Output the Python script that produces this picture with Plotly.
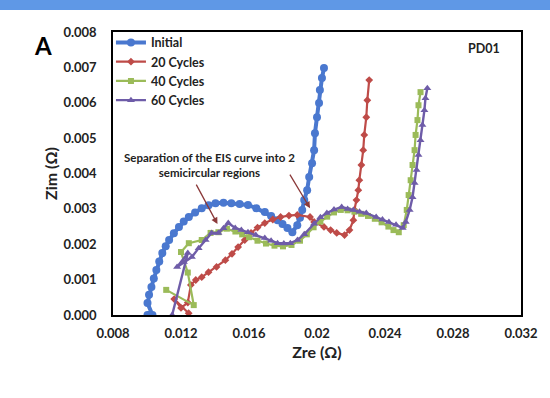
import plotly.graph_objects as go

# ---------------- data ----------------
initial_x = [0.01003, 0.01014, 0.01032, 0.01003, 0.01012, 0.01026, 0.01040, 0.01055, 0.01072, 0.01090, 0.01110,
             0.01130, 0.01158, 0.01188, 0.01216, 0.01246, 0.01283, 0.01322, 0.01362, 0.01403, 0.01450,
             0.01496, 0.01545, 0.01594, 0.01643, 0.01693, 0.01730, 0.01768, 0.01797, 0.01826, 0.01855,
             0.01884, 0.01900, 0.01913, 0.01925, 0.01942, 0.01954, 0.01971, 0.01983, 0.01988, 0.02000,
             0.02012, 0.02017, 0.02029, 0.02041]
initial_y = [0.00000, 0.00000, 0.00000, 0.00034, 0.00057, 0.00079, 0.00103, 0.00127, 0.00151, 0.00175, 0.00194,
             0.00212, 0.00231, 0.00249, 0.00264, 0.00277, 0.00290, 0.00302, 0.00310, 0.00316, 0.00317,
             0.00316, 0.00314, 0.00311, 0.00302, 0.00291, 0.00280, 0.00268, 0.00257, 0.00246, 0.00234,
             0.00254, 0.00275, 0.00297, 0.00325, 0.00353, 0.00390, 0.00429, 0.00466, 0.00514, 0.00559,
             0.00599, 0.00636, 0.00670, 0.00698]

c20_x = [0.01245, 0.01160, 0.01200, 0.01240, 0.01258, 0.01287, 0.01322, 0.01362, 0.01409, 0.01461,
         0.01500, 0.01536, 0.01575, 0.01612, 0.01650, 0.01693, 0.01740, 0.01786, 0.01835, 0.01884,
         0.01959, 0.01983, 0.02041, 0.02080, 0.02116, 0.02162, 0.02191, 0.02214, 0.02220, 0.02232,
         0.02243, 0.02249, 0.02261, 0.02272, 0.02278, 0.02290, 0.02296, 0.02307]
c20_y = [0.00005, 0.00045, 0.00020, 0.00035, 0.00085, 0.00099, 0.00107, 0.00121, 0.00136, 0.00155,
         0.00173, 0.00192, 0.00212, 0.00232, 0.00247, 0.00260, 0.00270, 0.00277, 0.00281, 0.00283,
         0.00277, 0.00263, 0.00249, 0.00240, 0.00232, 0.00226, 0.00240, 0.00268, 0.00297, 0.00325,
         0.00353, 0.00381, 0.00424, 0.00466, 0.00509, 0.00559, 0.00607, 0.00664]

c40_x = [0.01113, 0.01275, 0.01240, 0.01200, 0.01246, 0.01322, 0.01374, 0.01420, 0.01470, 0.01520,
         0.01560, 0.01600, 0.01650, 0.01700, 0.01750, 0.01800, 0.01850, 0.01900, 0.01940, 0.01980,
         0.02020, 0.02060, 0.02100, 0.02140, 0.02180, 0.02220, 0.02260, 0.02300, 0.02340, 0.02380,
         0.02420, 0.02450, 0.02481, 0.02510, 0.02528, 0.02539, 0.02551, 0.02562, 0.02574, 0.02580,
         0.02591, 0.02597, 0.02609]
c40_y = [0.00071, 0.00028, 0.00120, 0.00178, 0.00203, 0.00212, 0.00232, 0.00234, 0.00244, 0.00236,
         0.00228, 0.00220, 0.00210, 0.00202, 0.00196, 0.00194, 0.00198, 0.00210, 0.00228, 0.00248,
         0.00264, 0.00278, 0.00290, 0.00297, 0.00296, 0.00292, 0.00286, 0.00280, 0.00272, 0.00262,
         0.00250, 0.00240, 0.00234, 0.00254, 0.00297, 0.00339, 0.00381, 0.00424, 0.00466, 0.00509,
         0.00551, 0.00593, 0.00630]

c60_x = [0.01148, 0.01240, 0.01177, 0.01217, 0.01264, 0.01304, 0.01345, 0.01380, 0.01420, 0.01450,
         0.01478, 0.01519, 0.01555, 0.01594, 0.01640, 0.01693, 0.01730, 0.01768, 0.01805, 0.01843,
         0.01885, 0.01925, 0.01983, 0.02020, 0.02058, 0.02100, 0.02145, 0.02180, 0.02214, 0.02250,
         0.02290, 0.02348, 0.02385, 0.02423, 0.02465, 0.02504, 0.02522, 0.02545, 0.02562, 0.02574,
         0.02586, 0.02597, 0.02609, 0.02620, 0.02632, 0.02638, 0.02649]
c60_y = [0.00000, 0.00175, 0.00136, 0.00150, 0.00164, 0.00189, 0.00212, 0.00232, 0.00232, 0.00245,
         0.00260, 0.00246, 0.00240, 0.00234, 0.00226, 0.00218, 0.00210, 0.00203, 0.00202, 0.00203,
         0.00212, 0.00228, 0.00258, 0.00276, 0.00288, 0.00298, 0.00305, 0.00300, 0.00297, 0.00292,
         0.00288, 0.00277, 0.00270, 0.00263, 0.00255, 0.00246, 0.00263, 0.00297, 0.00333, 0.00373,
         0.00410, 0.00452, 0.00494, 0.00537, 0.00579, 0.00613, 0.00641]

series_names = ["Initial", "20 Cycles", "40 Cycles", "60 Cycles"]
x_tick_vals = [0.008, 0.012, 0.016, 0.020, 0.024, 0.028, 0.032]
x_tick_text = ["0.008", "0.012", "0.016", "0.02", "0.024", "0.028", "0.032"]
y_tick_vals = [0.000, 0.001, 0.002, 0.003, 0.004, 0.005, 0.006, 0.007, 0.008]

# ---------------- styling ----------------
FONT = "Lato"
colors = ["#4A78CF", "#BE4B48", "#9BBB59", "#6E5CA8"]
symbols = ["circle", "diamond", "square", "triangle-up"]
msizes = [8, 6, 6, 7]
lwidths = [4, 2.2, 2.2, 2.4]

fig = go.Figure()
data = [(initial_x, initial_y), (c20_x, c20_y), (c40_x, c40_y), (c60_x, c60_y)]
for (xs, ys), name, col, sym, ms, lw in zip(data, series_names, colors, symbols, msizes, lwidths):
    fig.add_trace(go.Scatter(
        x=xs, y=ys, name=name, mode="lines+markers",
        line=dict(color=col, width=lw),
        marker=dict(symbol=sym, size=ms, color=col),
    ))

axis_font = dict(family=FONT, size=13, color="#222", weight="bold")
fig.update_layout(
    width=550, height=398,
    margin=dict(l=113, r=23, t=32, b=83),
    paper_bgcolor="white", plot_bgcolor="white",
    font=dict(family=FONT, color="#222"),
    showlegend=True,
    legend=dict(x=-0.005, y=1.015, xanchor="left", yanchor="top",
                bgcolor="rgba(0,0,0,0)", font=dict(family=FONT, size=12.5, color="#222", weight="bold"),
                tracegroupgap=0, itemwidth=30),
    xaxis=dict(range=[0.008, 0.032], tickvals=x_tick_vals, ticktext=x_tick_text,
               showgrid=False, zeroline=False, showline=True, linecolor="black", linewidth=1.5,
               mirror=True, ticks="", tickfont=axis_font, ticklabelstandoff=6,
               title=dict(text="Zre (Ω)", font=dict(family=FONT, size=16, color="#222", weight="bold"),
                          standoff=6)),
    yaxis=dict(range=[0.0, 0.008], tickvals=y_tick_vals, tickformat=".3f",
               showgrid=False, zeroline=False, showline=True, linecolor="black", linewidth=1.5,
               mirror=True, ticks="", tickfont=axis_font, ticklabelstandoff=12,
               title=dict(text="Zim (Ω)", font=dict(family=FONT, size=16, color="#222", weight="bold"),
                          standoff=2)),
    shapes=[
        dict(type="rect", xref="paper", yref="paper", x0=-0.3, x1=1.1, y0=1.078, y1=1.12,
             fillcolor="#5F98E6", line=dict(width=0), layer="above"),
    ],
    annotations=[
        dict(text="A", xref="paper", yref="paper", x=-0.171, y=0.954, xanchor="center", yanchor="middle",
             showarrow=False, font=dict(family=FONT, size=24, color="black", weight="bold")),
        dict(text="PD01", xref="paper", yref="paper", x=0.954, y=0.943, xanchor="right", yanchor="middle",
             showarrow=False, font=dict(family=FONT, size=12.5, color="#222", weight="bold")),
        dict(text="Separation of the EIS curve into 2<br>semicircular regions", x=0.01370, y=0.00424,
             xanchor="center", yanchor="middle",
             showarrow=False, font=dict(family=FONT, size=11.5, color="#222", weight="bold"), align="center"),
        dict(text="", x=0.014145, y=0.00257, ax=-22, ay=-41, showarrow=True, arrowhead=2, arrowsize=1,
             arrowwidth=1.3, arrowcolor="#8B3A3A"),
        dict(text="", x=0.01959, y=0.00302, ax=-21, ay=-35, showarrow=True, arrowhead=2, arrowsize=1,
             arrowwidth=1.3, arrowcolor="#8B3A3A"),
    ],
)

fig.write_html("out.html", config={"displayModeBar": False},
               post_script="document.body.style.margin='0px';")
